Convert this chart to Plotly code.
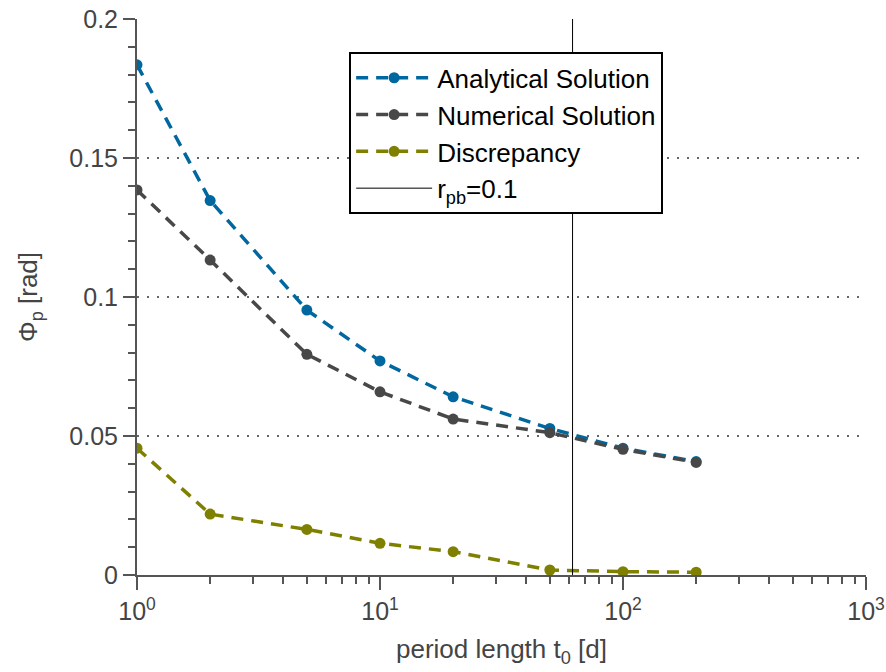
import plotly.graph_objects as go

# Period lengths t0 in days
period = [1, 2, 5, 10, 20, 50, 100, 200]

# Phase Phi_p in rad
analytical = [0.1835, 0.1347, 0.0953, 0.0770, 0.0641, 0.0527, 0.0456, 0.0408]
numerical = [0.1385, 0.1133, 0.0794, 0.0659, 0.0561, 0.0512, 0.0452, 0.0405]
discrepancy = [0.0456, 0.0219, 0.0164, 0.0114, 0.0084, 0.0018, 0.0012, 0.0010]

# Period at which r_pb = 0.1
t_rpb = 62
rpb_label = "r<sub>pb</sub>=0.1"

x_major = [1, 10, 100, 1000]
x_major_text = ["10<sup>0</sup>", "10<sup>1</sup>", "10<sup>2</sup>", "10<sup>3</sup>"]
x_minor = [m * d for d in (1, 10, 100) for m in range(2, 10)]
y_range = [0, 0.2]
y_major = [0, 0.05, 0.1, 0.15, 0.2]
y_major_text = ["0", "0.05", "0.1", "0.15", "0.2"]
y_minor = [i / 100 for i in range(0, 21)]

FONT = "Liberation Sans, Arial, Helvetica, sans-serif"
AXIS = "#555555"
TEXT = "#444444"

fig = go.Figure()

series = [
    ("Analytical Solution", analytical, "#00689f"),
    ("Numerical Solution", numerical, "#484848"),
    ("Discrepancy", discrepancy, "#7f7f00"),
]
for name, vals, col in series:
    fig.add_trace(go.Scatter(
        x=period, y=vals, name=name, mode="lines+markers",
        line=dict(color=col, width=3.5, dash="12px,8px"),
        marker=dict(color=col, size=11),
    ))

fig.add_trace(go.Scatter(
    x=[t_rpb, t_rpb], y=y_range, name=rpb_label, mode="lines",
    line=dict(color="black", width=1),
))

fig.update_layout(
    width=886, height=672,
    margin=dict(l=137, r=20, t=19, b=97),
    paper_bgcolor="white", plot_bgcolor="white",
    font=dict(family=FONT, size=25, color=TEXT),
    showlegend=True,
    legend=dict(
        x=0.291, y=0.94, xanchor="left", yanchor="top",
        bgcolor="white", bordercolor="black", borderwidth=2,
        font=dict(family=FONT, size=26, color="black"),
        itemwidth=76, tracegroupgap=0,
    ),
    xaxis=dict(
        type="log", range=[0, 3], automargin=False,
        tickmode="array", tickvals=x_major, ticktext=x_major_text,
        ticks="outside", ticklen=13, tickwidth=2, tickcolor=AXIS,
        minor=dict(tickmode="array", tickvals=x_minor, ticks="outside",
                   ticklen=7, tickwidth=1.5, tickcolor=AXIS, showgrid=False),
        showline=True, linecolor=AXIS, linewidth=2,
        showgrid=False, zeroline=False,
        tickfont=dict(size=25, color=TEXT),
        title=dict(text="period length t<sub>0</sub> [d]", standoff=16,
                   font=dict(size=26, color=TEXT)),
    ),
    yaxis=dict(
        range=y_range, automargin=False,
        tickmode="array", tickvals=y_major, ticktext=y_major_text,
        ticks="outside", ticklen=12, tickwidth=2, tickcolor=AXIS,
        minor=dict(tickmode="array", tickvals=y_minor, ticks="outside",
                   ticklen=7, tickwidth=1.5, tickcolor=AXIS, showgrid=False),
        showline=True, linecolor=AXIS, linewidth=2,
        showgrid=True, gridcolor="#666666", griddash="2px,8px", gridwidth=1.5,
        zeroline=False,
        tickfont=dict(size=25, color=TEXT),
        title=dict(text="Φ<sub>p</sub> [rad]", standoff=24,
                   font=dict(size=26, color=TEXT)),
    ),
)

fig.write_html("out.html")
